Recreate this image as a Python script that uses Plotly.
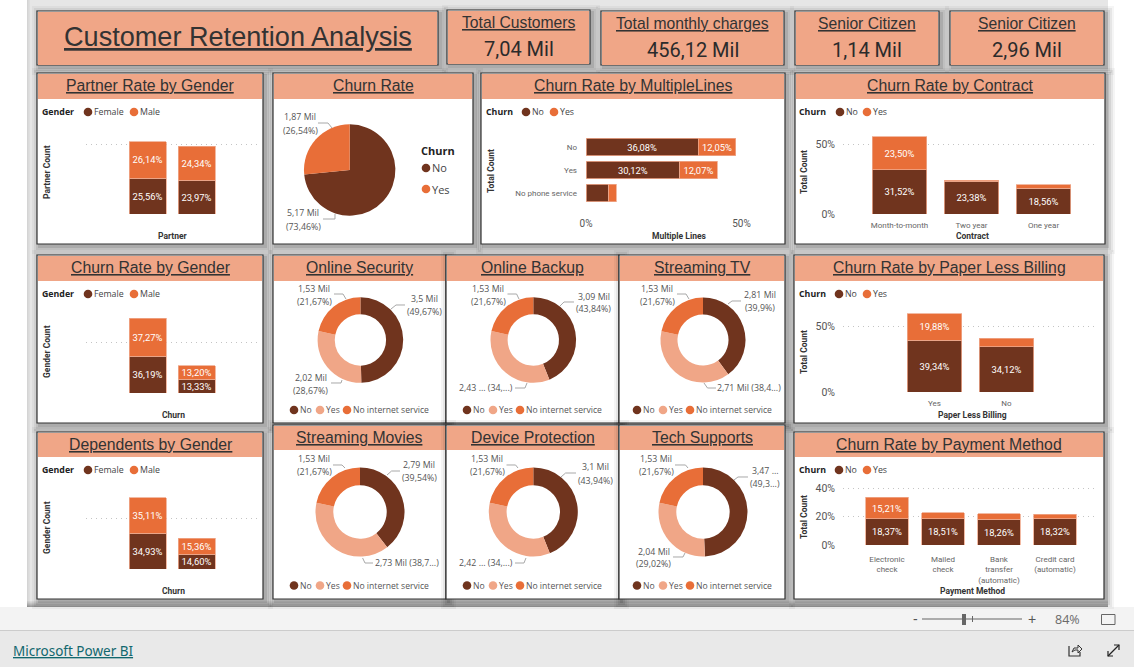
import plotly.graph_objects as go

# ---------- DATA ----------
NO_YES = ["No", "Yes"]
PARTNER_FEMALE = [25.56, 23.97]
PARTNER_MALE = [26.14, 24.34]
GENDER_CHURN_FEMALE = [36.19, 13.33]
GENDER_CHURN_MALE = [37.27, 13.20]
DEPEND_FEMALE = [34.93, 14.60]
DEPEND_MALE = [35.11, 15.36]

LINES_CATS = ["No", "Yes", "No phone service"]
LINES_NO = [36.08, 30.12, 7.3]
LINES_YES = [12.05, 12.07, 2.4]

CONTRACT_CATS = ["Month-to-month", "Two year", "One year"]
CONTRACT_NO = [31.52, 23.38, 18.56]
CONTRACT_YES = [23.50, 0.68, 2.36]

PAPER_CATS = ["Yes", "No"]
PAPER_NO = [39.34, 34.12]
PAPER_YES = [19.88, 6.66]

PAY_CATS = ["Electronic<br>check", "Mailed<br>check", "Bank<br>transfer<br>(automatic)", "Credit card<br>(automatic)"]
PAY_NO = [18.37, 18.51, 18.26, 18.32]
PAY_YES = [15.21, 4.37, 3.66, 3.29]

CHURN_LABELS = ["No", "Yes"]
CHURN_VALUES = [73.46, 26.54]

SERVICE_LABELS = ["No", "Yes", "No internet service"]
ONLINE_SECURITY = [49.67, 28.67, 21.67]
ONLINE_BACKUP = [43.84, 34.49, 21.67]
STREAMING_TV = [39.90, 38.43, 21.67]
STREAMING_MOVIES = [39.54, 38.79, 21.67]
DEVICE_PROTECTION = [43.94, 34.39, 21.67]
TECH_SUPPORTS = [49.31, 29.02, 21.67]

KPI_TITLES = ["Total Customers", "Total monthly charges", "Senior Citizen", "Senior Citizen"]
KPI_VALUES = ["7,04 Mil", "456,12 Mil", "1,14 Mil", "2,96 Mil"]

# ---------- STYLE ----------
W, H = 1134, 667
BROWN = "#70341E"
ORANGE = "#E86E38"
PEACH = "#F0A687"
EDGE = "#333333"
GRID = "#C4C4C4"
SANS = "Liberation Sans"
UI = "Open Sans"
DIN = "Roboto"
BARTXT = 9.4


def X(p):
    return p / W


def Y(p):
    return 1 - p / H


shapes = []
annotations = []


def rect(x0, y0, x1, y1, fill, line=None, lw=1):
    shapes.append(dict(type="rect", xref="paper", yref="paper", x0=X(x0), x1=X(x1), y0=Y(y1), y1=Y(y0),
                       fillcolor=fill, line=dict(color=line or "rgba(0,0,0,0)", width=lw if line else 0),
                       layer="below"))


def dot(x, y, color, r=4.3):
    shapes.append(dict(type="circle", xref="paper", yref="paper", x0=X(x - r), x1=X(x + r), y0=Y(y + r), y1=Y(y - r),
                       fillcolor=color, line=dict(width=0), layer="above"))


def path(points, color="#A8A8A8", width=1, fill=None):
    d = "M " + " L ".join(f"{X(a):.5f} {Y(b):.5f}" for a, b in points)
    shapes.append(dict(type="path", xref="paper", yref="paper", path=d,
                       line=dict(color=color, width=width), fillcolor=fill or "rgba(0,0,0,0)", layer="above"))


def text(x, y, s, size=9, color="#444444", family=UI, anchor="center", angle=0):
    annotations.append(dict(xref="paper", yref="paper", x=X(x), y=Y(y), text=s, showarrow=False,
                            xanchor=anchor, yanchor="middle", textangle=angle, borderpad=0, borderwidth=0,
                            font=dict(size=size, color=color, family=family)))


def panel(x0, y0, x1, y1, header, title, tsize=15.8, tdy=-0.5):
    for grow, alpha in ((8, 0.04), (6, 0.06), (4, 0.08), (2, 0.1)):
        rect(x0 - grow + 3, y0 - grow + 3, x1 + grow + 2, y1 + grow + 2, f"rgba(0,0,0,{alpha})")
    rect(x0, y0, x1, y1, "white", EDGE, 1.2)
    if header:
        rect(x0 + 1, y0 + 1, x1 - 1, header, PEACH)
    text((x0 + x1) / 2, (y0 + header) / 2 + tdy, f"<u>{title}</u>", tsize, "#333333", SANS)


# ---------- CHROME ----------
rect(0, 0, W, H, "white")
rect(27, 0, 1108, 607, "#E6E6E6")
for i, a in enumerate((0.05, 0.09, 0.14, 0.2, 0.26, 0.32)):
    rect(27, 601 + i, 1108, 602 + i, f"rgba(0,0,0,{a})")
for i, a in enumerate((0.08, 0.05, 0.03)):
    rect(27 + i, 0, 28 + i, 607, f"rgba(0,0,0,{a})")
rect(0, 607, W, 630, "#F3F3F3")
rect(0, 630, W, 667, "#E9E9E9")
rect(0, 630, W, 631, "#CCCCCC")
text(13, 651, "<u>Microsoft Power BI</u>", 13.5, "#11676E", "Noto Sans", "left")
text(915, 619, "-", 14, "#555555", SANS)
rect(922, 618.5, 1022, 619.5, "#666666")
rect(962, 614, 966, 625, "#666666")
rect(972, 616, 973, 622, "#666666")
text(1032, 619, "+", 14, "#555555", SANS)
text(1067, 619, "84%", 12.5, "#6A6A6A", UI)
shapes.append(dict(type="rect", xref="paper", yref="paper", x0=X(1101.5), x1=X(1115), y0=Y(624.5), y1=Y(614.5),
                   line=dict(color="#666666", width=1), fillcolor="rgba(0,0,0,0)", layer="above"))
path([(1069, 646), (1069, 656), (1080, 656), (1080, 652)], "#333333", 1.2)
path([(1072, 652), (1074, 648), (1078, 648), (1078, 645), (1082, 649), (1078, 653), (1078, 650), (1075, 650), (1072, 652)], "#333333", 1)
path([(1108, 656), (1119, 645)], "#222222", 1.2)
path([(1114, 645), (1119, 645), (1119, 650)], "#222222", 1.2)
path([(1108, 651), (1108, 656), (1113, 656)], "#222222", 1.2)

# ---------- KPI / TITLE ----------
panel(37, 11, 438, 65, 65, "Customer Retention Analysis", 27.1, -1.5)
kpi_boxes = [(447, 10, 590, 64), (601, 11, 784, 65), (795, 11, 939, 65), (950, 11, 1104, 65)]
for box, t, v in zip(kpi_boxes, KPI_TITLES, KPI_VALUES):
    panel(box[0], box[1], box[2], box[3], box[3], t, 15.7, -14.5)
    text((box[0] + box[2]) / 2, box[1] + 39.5, v, 20, "#2B2B2B", DIN)

# ---------- PANELS ----------
panel(37, 73, 263, 244, 99, "Partner Rate by Gender")
panel(273, 73, 473, 244, 99, "Churn Rate")
panel(481, 73, 785, 244, 99, "Churn Rate by MultipleLines")
panel(795, 73, 1105, 244, 99, "Churn Rate by Contract")
panel(37, 255, 263, 423, 281, "Churn Rate by Gender")
panel(273, 255, 446, 423, 281, "Online Security")
panel(446, 255, 619, 423, 281, "Online Backup")
panel(619, 255, 785, 423, 281, "Streaming TV")
panel(794, 255, 1104, 423, 281, "Churn Rate by Paper Less Billing")
panel(37, 432, 263, 599, 457, "Dependents by Gender")
panel(273, 425, 446, 599, 450, "Streaming Movies")
panel(446, 425, 619, 599, 450, "Device Protection")
panel(619, 425, 785, 599, 450, "Tech Supports")
panel(794, 432, 1104, 599, 457, "Churn Rate by Payment Method")

fig = go.Figure()
layout_axes = {}
axis_n = 0


def fmt(v):
    return f"{v:.2f}%".replace(".", ",") if v >= 10 else ""


def vbars(cats, first, second, names, grid_l, grid_r, top, base, c0, pitch, barw, scale, ticks, show_y, show_x,
          standoff=5):
    global axis_n
    axis_n += 1
    s = "" if axis_n == 1 else str(axis_n)
    for vals, name, col in ((first, names[0], BROWN), (second, names[1], ORANGE)):
        fig.add_trace(go.Bar(x=cats, y=vals, name=name, xaxis="x" + s, yaxis="y" + s, marker=dict(color=col, line=dict(color="#EFA98C", width=0.8)),
                             text=[fmt(v) for v in vals], textposition="inside", insidetextanchor="middle",
                             textangle=0, constraintext="none", insidetextfont=dict(size=BARTXT, color="white", family=DIN),
                             showlegend=False, hoverinfo="skip"))
    layout_axes["xaxis" + s] = dict(domain=[X(grid_l), X(grid_r)], anchor="y" + s, type="category", automargin=False,
                                    range=[(grid_l - c0) / pitch, (grid_r - c0) / pitch], showgrid=False, zeroline=False,
                                    showline=False, ticks="", showticklabels=show_x, tickangle=0, ticklabelstandoff=standoff,
                                    tickfont=dict(size=8, color="#666666", family=DIN), fixedrange=True)
    layout_axes["yaxis" + s] = dict(domain=[Y(base), Y(top)], anchor="x" + s, range=[0, (base - top) / scale], automargin=False,
                                    tickmode="array", tickvals=ticks, ticktext=[f"{t}%" for t in ticks],
                                    showgrid=True, gridcolor=GRID, griddash="1px,4px", gridwidth=1, zeroline=False,
                                    showline=False, ticks="", showticklabels=show_y, ticklabelstandoff=7,
                                    tickfont=dict(size=10.5, color="#555555", family=DIN), fixedrange=True)
    return (1 - barw / pitch)


gap = vbars(NO_YES, PARTNER_FEMALE, PARTNER_MALE, ("Female", "Male"), 86, 260, 120, 214, 147.5, 49, 37, 1.4, [0, 50], False, False)
vbars(NO_YES, GENDER_CHURN_FEMALE, GENDER_CHURN_MALE, ("Female", "Male"), 86, 260, 305, 393, 147.5, 49, 37, 1.02, [0, 50], False, False)
vbars(NO_YES, DEPEND_FEMALE, DEPEND_MALE, ("Female", "Male"), 86, 260, 480, 569, 147.5, 49, 37, 1.02, [0, 50], False, False)
vbars(CONTRACT_CATS, CONTRACT_NO, CONTRACT_YES, ("No", "Yes"), 843, 1098, 120, 214, 899.5, 72, 54.5, 1.4, [0, 50], True, True)
vbars(PAPER_CATS, PAPER_NO, PAPER_YES, ("No", "Yes"), 843, 1097, 300, 392, 934.5, 72, 54.5, 1.32, [0, 50], True, True)
vbars(PAY_CATS, PAY_NO, PAY_YES, ("No", "Yes"), 843, 1097, 484, 545, 887, 56, 43, 1.42, [0, 20, 40], True, True, 8)

# horizontal chart
axis_n += 1
hs = str(axis_n)
for vals, name, col in ((LINES_NO, "No", BROWN), (LINES_YES, "Yes", ORANGE)):
    fig.add_trace(go.Bar(y=LINES_CATS, x=vals, name=name, orientation="h", xaxis="x" + hs, yaxis="y" + hs,
                         marker=dict(color=col, line=dict(color="#EFA98C", width=0.8)),
                         text=[fmt(v) for v in vals], textposition="inside", insidetextanchor="middle", textangle=0,
                         constraintext="none", insidetextfont=dict(size=BARTXT, color="white", family=DIN),
                         showlegend=False, hoverinfo="skip"))
layout_axes["xaxis" + hs] = dict(domain=[X(586), X(741.5)], anchor="y" + hs, range=[0, 50], tickmode="array", automargin=False,
                                 tickvals=[0, 50], ticktext=["0%", "50%"], showgrid=True, gridcolor=GRID,
                                 griddash="1px,4px", zeroline=False, showline=False, ticks="", ticklabelstandoff=4,
                                 tickfont=dict(size=10, color="#555555", family=DIN), fixedrange=True)
layout_axes["yaxis" + hs] = dict(domain=[Y(212), Y(130)], anchor="x" + hs, type="category", automargin=False,
                                 range=[(212 - 147) / 23, (130 - 147) / 23], showgrid=False, zeroline=False,
                                 showline=False, ticks="", ticklabelstandoff=8,
                                 tickfont=dict(size=8, color="#666666", family=DIN), fixedrange=True)


def pie(labels, values, colors, cx, cy, r, hole):
    fig.add_trace(go.Pie(labels=labels, values=values, sort=False, direction="clockwise", rotation=0, hole=hole,
                         marker=dict(colors=colors, line=dict(width=0)), textinfo="none", showlegend=False,
                         hoverinfo="skip", domain=dict(x=[X(cx - r), X(cx + r)], y=[Y(cy + r), Y(cy - r)])))


DONUT_COLORS = [BROWN, PEACH, ORANGE]
pie(CHURN_LABELS, CHURN_VALUES, [BROWN, ORANGE], 349.7, 170, 45.7, 0)
pie(SERVICE_LABELS, ONLINE_SECURITY, DONUT_COLORS, 360.4, 340, 42.8, 0.6)
pie(SERVICE_LABELS, ONLINE_BACKUP, DONUT_COLORS, 533.3, 340, 42.8, 0.6)
pie(SERVICE_LABELS, STREAMING_TV, DONUT_COLORS, 703, 340, 42.5, 0.6)
pie(SERVICE_LABELS, STREAMING_MOVIES, DONUT_COLORS, 360, 512, 44.5, 0.6)
pie(SERVICE_LABELS, DEVICE_PROTECTION, DONUT_COLORS, 533.3, 512, 44.5, 0.6)
pie(SERVICE_LABELS, TECH_SUPPORTS, DONUT_COLORS, 703, 512, 44.5, 0.6)

# ---------- AXIS TITLES ----------
AXT = dict(size=8.5, color="#333333", family=DIN)
for x, y, s in ((173, 236, "Partner"), (173, 415, "Churn"), (173, 591, "Churn"), (679, 236, "Multiple Lines"),
                (972, 236, "Contract"), (972, 415, "Paper Less Billing"), (972, 591, "Payment Method")):
    text(x, y, f"<b>{s}</b>", **AXT)
for x, y, s in ((47, 172, "Partner Count"), (47, 352, "Gender Count"), (47, 528, "Gender Count"), (491, 171, "Total Count"),
                (804, 172, "Total Count"), (804, 352, "Total Count"), (804, 517, "Total Count")):
    text(x, y, f"<b>{s}</b>", angle=-90, **AXT)


# ---------- LEGENDS ----------
def hlegend(title, x_title, y, items):
    text(x_title, y, f"<b>{title}</b>", 8.8, "#222222", UI, "left")
    for cx, label, col in items:
        dot(cx, y, col)
        text(cx + 6, y, label, 8.8, "#444444", UI, "left")


for yy in (112, 294, 470):
    hlegend("Gender", 42, yy, [(88, "Female", BROWN), (134, "Male", ORANGE)])
hlegend("Churn", 486, 112, [(526, "No", BROWN), (554, "Yes", ORANGE)])
hlegend("Churn", 799, 112, [(840, "No", BROWN), (867, "Yes", ORANGE)])
hlegend("Churn", 799, 294, [(839, "No", BROWN), (867, "Yes", ORANGE)])
hlegend("Churn", 799, 470, [(839, "No", BROWN), (867, "Yes", ORANGE)])

text(421, 150, "<b>Churn</b>", 11, "#222222", UI, "left")
dot(426, 168, BROWN)
text(432, 168, "No", 11, "#444444", UI, "left")
dot(426, 189, ORANGE)
text(432, 189, "Yes", 11, "#444444", UI, "left")

for yy in (410, 585.5):
    for off in ((294, 320, 347), (467, 493, 520), (637, 663, 690)):
        for cx, lab, col in zip(off, SERVICE_LABELS, DONUT_COLORS):
            dot(cx, yy, col)
            text(cx + 6, yy, lab, 8.6, "#555555", UI, "left")


# ---------- SLICE LABELS ----------
def slice_label(cx, ys, lines, leader):
    for yy, s in zip(ys, lines):
        text(cx, yy, s, 8.8, "#555555", UI)
    path(leader)


slice_label(300, (117, 131), ("1,87 Mil", "(26,54%)"), [(318, 123), (328, 123), (332, 128)])
slice_label(303, (213, 227), ("5,17 Mil", "(73,46%)"), [(323, 219), (335, 219), (335, 214)])
O = ("1,53 Mil", "(21,67%)")
slice_label(314, (289, 302), O, [(334, 294), (343, 294), (346, 299)])
slice_label(424, (299, 312), ("3,5 Mil", "(49,67%)"), [(405, 305), (396, 305), (391, 309)])
slice_label(310.5, (378, 391), ("2,02 Mil", "(28,67%)"), [(331, 383), (341, 383), (342, 380)])
slice_label(488, (289, 302), O, [(507.5, 294), (516.6, 294), (519, 299)])
slice_label(593.6, (297, 309), ("3,09 Mil", "(43,84%)"), [(574, 302), (564, 302), (560, 306)])
slice_label(486, (388,), ("2,43 ... (34,...)",), [(515, 388), (525, 388), (527, 383)])
slice_label(657, (289, 302), O, [(677, 294), (686, 294), (689, 299)])
slice_label(760, (295, 308), ("2,81 Mil", "(39,9%)"), [(741, 301), (732, 301), (728, 304)])
slice_label(749, (388,), ("2,71 Mil (38,4...)",), [(716, 388), (707.5, 388), (704, 383)])
slice_label(314, (459, 472), O, [(333, 465), (342, 465), (345, 468)])
slice_label(419, (465, 478), ("2,79 Mil", "(39,54%)"), [(400, 471), (391.6, 471), (387, 475)])
slice_label(407, (563,), ("2,73 Mil (38,7...)",), [(373, 563), (365, 563), (362.6, 558)])
slice_label(487, (459, 472), O, [(506.5, 465), (515.6, 465), (518, 468)])
slice_label(595, (467, 481), ("3,1 Mil", "(43,94%)"), [(576, 473), (565.6, 473), (561, 477)])
slice_label(485.5, (563,), ("2,42 ... (34,...)",), [(515, 563), (524, 563), (526, 558)])
slice_label(656, (459, 472), O, [(675, 465), (685.5, 465), (688, 468)])
slice_label(765, (471, 484), ("3,47 ...", "(49,3...)"), [(748, 477), (738, 477), (734, 480)])
slice_label(653.5, (552, 564), ("2,04 Mil", "(29,02%)"), [(673, 557), (683, 557), (685, 553)])

fig.update_layout(width=W, height=H, autosize=False, margin=dict(l=0, r=0, t=0, b=0, pad=0),
                  paper_bgcolor="white", plot_bgcolor="rgba(0,0,0,0)", barmode="stack", bargap=gap,
                  shapes=shapes, annotations=annotations, hovermode=False, **layout_axes)
fig.write_html("out.html", config=dict(displayModeBar=False),
               post_script="document.body.style.margin='0';document.documentElement.style.overflow='hidden';")
